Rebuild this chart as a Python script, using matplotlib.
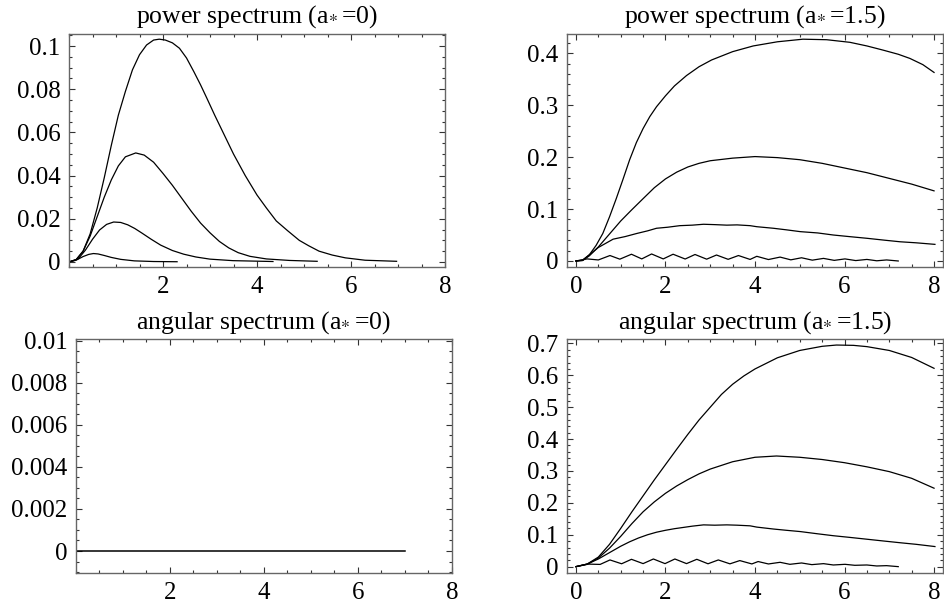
import matplotlib
matplotlib.use("Agg")
import matplotlib.pyplot as plt
from matplotlib.ticker import FixedLocator, MultipleLocator, FixedFormatter

plt.rcParams['font.family'] = ['Liberation Serif', 'DejaVu Serif']
plt.rcParams['mathtext.fontset'] = 'stix'

# ---------------- data ----------------
# power spectrum, a* = 0
p0_a_x = [0.0, 0.15, 0.3, 0.45, 0.6, 0.75, 0.9, 1.05, 1.2, 1.35, 1.5, 1.65, 1.8, 1.92, 2.05, 2.2,
          2.35, 2.5, 2.66, 2.8, 2.93, 3.1, 3.3, 3.5, 3.75, 4.0, 4.2, 4.41, 4.65, 4.9, 5.1, 5.32,
          5.6, 5.88, 6.3, 6.97]
p0_a_y = [0.0, 0.001, 0.005, 0.013, 0.025, 0.039, 0.054, 0.068, 0.079, 0.089, 0.096, 0.1005,
          0.1028, 0.1032, 0.1028, 0.1015, 0.099, 0.0945, 0.088, 0.082, 0.076, 0.068, 0.059, 0.050,
          0.040, 0.031, 0.025, 0.019, 0.0145, 0.010, 0.0075, 0.005, 0.0032, 0.0019, 0.0008, 0.0003]
p0_b_x = [0.0, 0.15, 0.3, 0.45, 0.6, 0.75, 0.9, 1.05, 1.2, 1.42, 1.6, 1.8, 2.0, 2.2, 2.4, 2.6, 2.8,
          3.0, 3.2, 3.4, 3.6, 3.85, 4.2, 4.69, 5.28]
p0_b_y = [0.0, 0.001, 0.005, 0.012, 0.021, 0.030, 0.038, 0.0445, 0.0487, 0.0505, 0.0495, 0.0462,
          0.041, 0.0355, 0.0295, 0.0235, 0.018, 0.0135, 0.0095, 0.0065, 0.0043, 0.0026, 0.0014,
          0.0007, 0.0003]
p0_c_x = [0.0, 0.2, 0.35, 0.5, 0.65, 0.8, 0.95, 1.1, 1.25, 1.4, 1.55, 1.75, 1.95, 2.2, 2.44, 2.7,
          3.0, 3.49, 4.34]
p0_c_y = [0.0, 0.0015, 0.0055, 0.0105, 0.0148, 0.0174, 0.0185, 0.0183, 0.0172, 0.0155, 0.0134,
          0.0105, 0.0078, 0.0053, 0.0036, 0.0023, 0.0013, 0.0006, 0.0002]
p0_d_x = [0.0, 0.15, 0.3, 0.42, 0.52, 0.62, 0.75, 0.9, 1.1, 1.39, 1.8, 2.3]
p0_d_y = [0.0, 0.0008, 0.0025, 0.0035, 0.0039, 0.0037, 0.003, 0.0021, 0.0012, 0.0005, 0.0002,
          0.0001]

# power spectrum, a* = 1.5
p15_a_x = [0.0, 0.15, 0.3, 0.45, 0.6, 0.75, 0.9, 1.05, 1.2, 1.35, 1.5, 1.65, 1.8, 2.0, 2.2, 2.47,
           2.75, 3.03, 3.5, 3.96, 4.5, 5.07, 5.6, 6.12, 6.5, 6.86, 7.2, 7.46, 7.75, 8.0]
p15_a_y = [0.0, 0.001, 0.012, 0.03, 0.053, 0.085, 0.12, 0.157, 0.195, 0.228, 0.255, 0.278, 0.297,
           0.318, 0.337, 0.357, 0.374, 0.387, 0.403, 0.414, 0.422, 0.427, 0.426, 0.421, 0.414,
           0.406, 0.398, 0.39, 0.378, 0.363]
p15_b_x = [0.0, 0.15, 0.3, 0.5, 0.75, 1.0, 1.24, 1.5, 1.75, 2.0, 2.25, 2.5, 2.75, 3.0, 3.5, 4.0,
           4.5, 5.0, 5.5, 6.0, 6.5, 7.0, 7.5, 8.0]
p15_b_y = [0.0, 0.001, 0.010, 0.027, 0.052, 0.077, 0.098, 0.12, 0.141, 0.158, 0.171, 0.181, 0.188,
           0.193, 0.198, 0.201, 0.199, 0.195, 0.188, 0.179, 0.17, 0.159, 0.148, 0.135]
p15_c_x = [0.0, 0.15, 0.3, 0.5, 0.83, 1.1, 1.36, 1.6, 1.8, 2.05, 2.32, 2.6, 2.85, 3.1, 3.37, 3.6,
           3.89, 4.04, 4.41, 4.7, 5.01, 5.4, 5.75, 6.1, 6.5, 6.9, 7.24, 7.6, 8.02]
p15_c_y = [0.0, 0.002, 0.012, 0.026, 0.042, 0.047, 0.053, 0.058, 0.063, 0.065, 0.068, 0.069, 0.0707,
           0.070, 0.069, 0.0695, 0.068, 0.066, 0.063, 0.060, 0.0565, 0.054, 0.050, 0.047, 0.0437,
           0.040, 0.037, 0.035, 0.032]
p15_d_x = [0.0, 0.25, 0.5, 0.76, 0.98, 1.24, 1.47, 1.69, 1.95, 2.17, 2.44, 2.66, 2.92, 3.14, 3.40,
           3.63, 3.89, 4.04, 4.30, 4.56, 4.80, 5.04, 5.28, 5.53, 5.77, 6.01, 6.25, 6.50, 6.72, 6.94,
           7.20]
p15_d_y = [0.0, 0.004, 0.002, 0.0105, 0.0035, 0.013, 0.004, 0.0135, 0.004, 0.013, 0.0038, 0.0125,
           0.0035, 0.0115, 0.0032, 0.0105, 0.003, 0.009, 0.0028, 0.0075, 0.0022, 0.0062, 0.0016,
           0.005, 0.0012, 0.004, 0.0008, 0.003, 0.0004, 0.002, 0.0]

# angular spectrum, a* = 0
a0_x = [0.0, 7.0]
a0_y = [0.0, 0.0]

# angular spectrum, a* = 1.5
a15_a_x = [0.0, 0.25, 0.5, 0.75, 1.0, 1.25, 1.5, 1.75, 2.0, 2.25, 2.5, 2.75, 3.0, 3.25, 3.5, 3.75,
           4.0, 4.5, 5.0, 5.5, 5.82, 6.2, 6.5, 7.0, 7.5, 8.0]
a15_a_y = [0.0, 0.008, 0.03, 0.07, 0.12, 0.172, 0.222, 0.272, 0.32, 0.368, 0.415, 0.46, 0.5, 0.54,
           0.572, 0.598, 0.62, 0.655, 0.678, 0.691, 0.695, 0.694, 0.69, 0.678, 0.656, 0.622]
a15_b_x = [0.0, 0.25, 0.5, 0.75, 1.0, 1.25, 1.5, 1.75, 2.0, 2.25, 2.5, 2.75, 3.0, 3.5, 4.0, 4.48,
           5.0, 5.5, 6.0, 6.5, 7.0, 7.5, 8.0]
a15_b_y = [0.0, 0.007, 0.027, 0.058, 0.095, 0.135, 0.172, 0.203, 0.23, 0.253, 0.273, 0.291, 0.306,
           0.329, 0.343, 0.347, 0.343, 0.336, 0.326, 0.313, 0.298, 0.277, 0.246]
a15_c_x = [0.0, 0.25, 0.5, 0.75, 1.0, 1.2, 1.4, 1.6, 1.8, 2.0, 2.2, 2.4, 2.6, 2.85, 3.1, 3.37, 3.6,
           3.89, 4.04, 4.41, 4.7, 5.01, 5.4, 5.75, 6.1, 6.5, 6.9, 7.24, 7.6, 8.02]
a15_c_y = [0.0, 0.008, 0.024, 0.044, 0.064, 0.078, 0.090, 0.100, 0.108, 0.114, 0.119, 0.123, 0.127,
           0.131, 0.130, 0.131, 0.130, 0.128, 0.124, 0.118, 0.114, 0.110, 0.103, 0.097, 0.092,
           0.086, 0.080, 0.075, 0.070, 0.063]
a15_d_x = [0.0, 0.25, 0.54, 0.76, 1.02, 1.24, 1.50, 1.73, 1.99, 2.21, 2.47, 2.70, 2.95, 3.18, 3.44,
           3.66, 3.93, 4.07, 4.30, 4.56, 4.78, 5.04, 5.27, 5.53, 5.75, 6.01, 6.23, 6.50, 6.72, 6.94,
           7.20]
a15_d_y = [0.0, 0.008, 0.007, 0.021, 0.009, 0.023, 0.0095, 0.024, 0.0095, 0.024, 0.0095, 0.023,
           0.009, 0.021, 0.0088, 0.019, 0.0085, 0.016, 0.0084, 0.0136, 0.0073, 0.0115, 0.0063,
           0.0094, 0.0052, 0.0073, 0.0042, 0.0052, 0.0021, 0.0031, 0.0]

titles = [r"power spectrum (a$_{*}\,$=0)", r"power spectrum (a$_{*}\,$=1.5)",
          r"angular spectrum (a$_{*}\,$=0)", r"angular spectrum (a$_{*}\,$=1.5)"]

x_ticks_a0 = [2, 4, 6, 8]
x_ticks_a15 = [0, 2, 4, 6, 8]
y_ticks_p0 = [0, 0.02, 0.04, 0.06, 0.08, 0.1]
y_labels_p0 = ["0", "0.02", "0.04", "0.06", "0.08", "0.1"]
y_ticks_p15 = [0, 0.1, 0.2, 0.3, 0.4]
y_labels_p15 = ["0", "0.1", "0.2", "0.3", "0.4"]
y_ticks_a0 = [0, 0.002, 0.004, 0.006, 0.008, 0.01]
y_labels_a0 = ["0", "0.002", "0.004", "0.006", "0.008", "0.01"]
y_ticks_a15 = [0, 0.1, 0.2, 0.3, 0.4, 0.5, 0.6, 0.7]
y_labels_a15 = ["0", "0.1", "0.2", "0.3", "0.4", "0.5", "0.6", "0.7"]

# ---------------- figure ----------------
fig = plt.figure(figsize=(9.45, 6.1), dpi=100)
W, H = 945.0, 610.0

def box(l, r, t, b):
    return [l / W, 1 - b / H, (r - l) / W, (b - t) / H]

ax1 = fig.add_axes(box(69, 445, 34, 266.7))
ax2 = fig.add_axes(box(567, 943, 34, 266.7))
ax3 = fig.add_axes(box(75.7, 452, 339.3, 572.7))
ax4 = fig.add_axes(box(567, 943, 339.3, 572.7))

lw = 0.9
kw = dict(color='black', lw=lw, solid_joinstyle='round')
ax1.plot(p0_a_x, p0_a_y, **kw)
ax1.plot(p0_b_x, p0_b_y, **kw)
ax1.plot(p0_c_x, p0_c_y, **kw)
ax1.plot(p0_d_x, p0_d_y, **kw)

ax2.plot(p15_a_x, p15_a_y, **kw)
ax2.plot(p15_b_x, p15_b_y, **kw)
ax2.plot(p15_c_x, p15_c_y, **kw)
ax2.plot(p15_d_x, p15_d_y, **kw)

ax3.plot(a0_x, a0_y, color='black', lw=1.1)

ax4.plot(a15_a_x, a15_a_y, **kw)
ax4.plot(a15_b_x, a15_b_y, **kw)
ax4.plot(a15_c_x, a15_c_y, **kw)
ax4.plot(a15_d_x, a15_d_y, **kw)

ax1.set_xlim(0, 8); ax1.set_ylim(-0.0022, 0.1056)
ax2.set_xlim(-0.2, 8.2); ax2.set_ylim(-0.011, 0.437)
ax3.set_xlim(0, 8); ax3.set_ylim(-0.00103, 0.01006)
ax4.set_xlim(-0.2, 8.2); ax4.set_ylim(-0.019, 0.713)

fs = 18
specs = [
    (ax1, x_ticks_a0, y_ticks_p0, y_labels_p0, 0.005),
    (ax2, x_ticks_a15, y_ticks_p15, y_labels_p15, 0.02),
    (ax3, x_ticks_a0, y_ticks_a0, y_labels_a0, 0.0005),
    (ax4, x_ticks_a15, y_ticks_a15, y_labels_a15, 0.02),
]
for ax, xt, yt, yl, yminor in specs:
    ax.xaxis.set_major_locator(FixedLocator(xt))
    ax.xaxis.set_major_formatter(FixedFormatter([str(v) for v in xt]))
    ax.xaxis.set_minor_locator(MultipleLocator(0.5))
    ax.yaxis.set_major_locator(FixedLocator(yt))
    ax.yaxis.set_major_formatter(FixedFormatter(yl))
    ax.yaxis.set_minor_locator(MultipleLocator(yminor))
    ax.tick_params(which='both', direction='in', top=True, right=True,
                   color='#333333', width=0.8, labelsize=fs)
    ax.tick_params(which='major', length=4.5)
    ax.tick_params(which='minor', length=2.2)
    ax.tick_params(axis='y', which='major', pad=6)
    ax.tick_params(axis='x', which='major', pad=7)
    for s in ax.spines.values():
        s.set_color('#666666')
        s.set_linewidth(1.0)

for ax, t in zip([ax1, ax2, ax3, ax4], titles):
    ax.set_title(t, fontsize=18.5, pad=8)

fig.savefig("out.png", dpi=100)
